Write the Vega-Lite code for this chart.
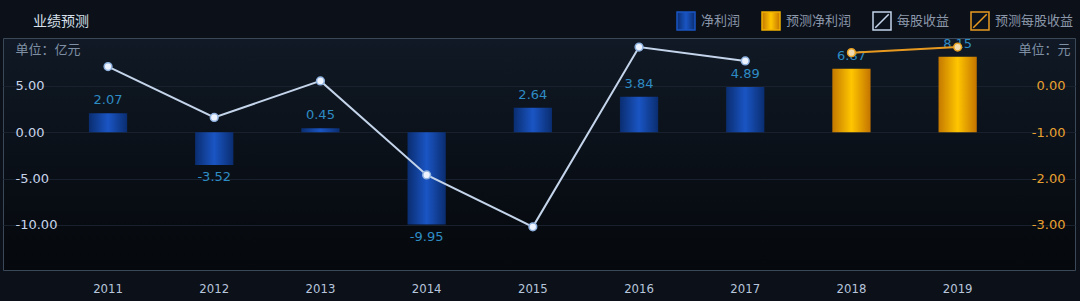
{
  "$schema": "https://vega.github.io/schema/vega-lite/v6.json",
  "width": 1072,
  "height": 232,
  "autosize": {"type": "none"},
  "padding": {"left": 3, "top": 38, "right": 5, "bottom": 31},
  "background": "#0b1019",
  "title": {"text": "业绩预测", "anchor": "start", "frame": "group", "dx": 30, "dy": 43, "offset": 11, "fontSize": 14, "font": "Noto Sans CJK SC", "fontWeight": "normal", "color": "#d8e0ea", "baseline": "bottom"},
  "config": {
    "locale": {"number": {"decimal": ".", "thousands": ",", "grouping": [3], "currency": ["$", ""], "minus": "-"}},
    "view": {"stroke": "#3a4858", "strokeWidth": 1, "fill": {"gradient": "linear", "x1": 0, "y1": 0, "x2": 0, "y2": 1, "stops": [{"offset": 0, "color": "#101925"}, {"offset": 1, "color": "#05080c"}]}},
    "axis": {"labelFont": "DejaVu Sans", "titleFont": "Noto Sans CJK SC", "titleFontWeight": "normal"}
  },
  "data": {"values": [
    {"year": "2011", "profit": 2.07, "eps": 0.42, "series": "每股收益"},
    {"year": "2012", "profit": -3.52, "eps": -0.68, "series": "每股收益"},
    {"year": "2013", "profit": 0.45, "eps": 0.11, "series": "每股收益"},
    {"year": "2014", "profit": -9.95, "eps": -1.92, "series": "每股收益"},
    {"year": "2015", "profit": 2.64, "eps": -3.04, "series": "每股收益"},
    {"year": "2016", "profit": 3.84, "eps": 0.84, "series": "每股收益"},
    {"year": "2017", "profit": 4.89, "eps": 0.54, "series": "每股收益"},
    {"year": "2018", "profit": 6.87, "eps": 0.72, "series": "预测每股收益"},
    {"year": "2019", "profit": 8.15, "eps": 0.84, "series": "预测每股收益"}
  ]},
  "encoding": {
    "x": {"field": "year", "type": "ordinal", "scale": {"paddingInner": 0, "paddingOuter": 0.547, "align": 0.447},
      "axis": {"title": null, "labelAngle": 0, "labelColor": "#b8c6dc", "labelFontSize": 13, "labelPadding": 12, "domain": false, "ticks": false, "labelFont": "DejaVu Sans Condensed, DejaVu Sans"}}
  },
  "layer": [
    {
      "encoding": {
        "y": {"field": "profit", "type": "quantitative", "scale": {"domain": [-14.86, 10.18], "nice": false, "zero": false},
          "axis": {"orient": "left", "values": [5, 0, -5, -10], "format": ".2f", "labelAlign": "left", "labelBaseline": "middle", "labelPadding": -12, "ticks": false, "tickSize": 0, "domain": false, "labelColor": "#c8d4ea", "labelFontSize": 13, "grid": true, "gridColor": "#19212e", "title": "单位：亿元", "titleAngle": 0, "titleAlign": "left", "titleBaseline": "middle", "titleX": 12, "titleY": 11, "titleColor": "#8090a4", "titleFontSize": 13}}
      },
      "layer": [
        {"transform": [{"filter": "datum.series === '每股收益'"}],
          "mark": {"type": "bar", "width": {"band": 0.36}, "fill": {"gradient": "linear", "x1": 0, "y1": 0, "x2": 1, "y2": 0, "stops": [{"offset": 0, "color": "#0a2d70"}, {"offset": 0.5, "color": "#1a55c4"}, {"offset": 1, "color": "#0a2d70"}]}}},
        {"transform": [{"filter": "datum.series === '预测每股收益'"}],
          "mark": {"type": "bar", "width": {"band": 0.36}, "fill": {"gradient": "linear", "x1": 0, "y1": 0, "x2": 1, "y2": 0, "stops": [{"offset": 0, "color": "#c47800"}, {"offset": 0.5, "color": "#ffc600"}, {"offset": 1, "color": "#c47400"}]}}},
        {"transform": [{"filter": "datum.profit >= 0"}],
          "mark": {"type": "text", "baseline": "bottom", "dy": -6, "color": "#2e8cc4", "fontSize": 13, "font": "DejaVu Sans"},
          "encoding": {"text": {"field": "profit", "type": "quantitative", "format": ".2f"}}},
        {"transform": [{"filter": "datum.profit < 0"}],
          "mark": {"type": "text", "baseline": "top", "dy": 6, "color": "#2e8cc4", "fontSize": 13, "font": "DejaVu Sans"},
          "encoding": {"text": {"field": "profit", "type": "quantitative", "format": ".2f"}}}
      ]
    },
    {
      "encoding": {
        "y": {"field": "eps", "type": "quantitative", "scale": {"domain": [-3.972, 1.036], "nice": false, "zero": false},
          "axis": {"orient": "right", "values": [0, -1, -2, -3], "format": ".2f", "labelAlign": "right", "labelBaseline": "middle", "labelPadding": -10, "ticks": false, "tickSize": 0, "domain": false, "grid": false, "labelColor": "#e8a030", "labelFontSize": 13, "title": "单位：元", "titleAngle": 0, "titleAlign": "right", "titleBaseline": "middle", "titleX": -5, "titleY": 11, "titleColor": "#8090a4", "titleFontSize": 13}}
      },
      "layer": [
        {"mark": {"type": "line", "strokeWidth": 2},
          "encoding": {"color": {"field": "series", "type": "nominal",
            "scale": {"domain": ["净利润", "预测净利润", "每股收益", "预测每股收益"], "range": ["#1a55c4", "#f0b000", "#c4d4ea", "#e89a20"]},
            "legend": {"title": null, "orient": "none", "legendX": 673, "legendY": -27, "direction": "horizontal", "columnPadding": 18, "labelOffset": 5, "symbolSize": 324, "symbolType": "square", "labelColor": "#8c98aa", "labelFont": "Noto Sans CJK SC", "labelFontSize": 13, "symbolStrokeWidth": 1.5,
              "encode": {"symbols": {"update": {
                "shape": {"signal": "datum.value === '净利润' || datum.value === '预测净利润' ? 'square' : 'M-1,-1H1V1H-1Z M-0.75,0.75L0.75,-0.75'"},
                "fill": {"signal": "datum.value === '净利润' ? {gradient: 'linear', x1: 0, y1: 0, x2: 1, y2: 0, stops: [{offset: 0, color: '#0a2d70'}, {offset: 0.5, color: '#1a55c4'}, {offset: 1, color: '#0a2d70'}]} : datum.value === '预测净利润' ? {gradient: 'linear', x1: 0, y1: 0, x2: 1, y2: 0, stops: [{offset: 0, color: '#c47800'}, {offset: 0.5, color: '#ffc600'}, {offset: 1, color: '#c47400'}]} : '#0c121c'"},
                "stroke": {"signal": "datum.value === '每股收益' ? '#a8bcd6' : datum.value === '预测每股收益' ? '#d89a30' : 'transparent'"},
                "strokeWidth": {"value": 1.5},
                "opacity": {"value": 1}
              }}}}}}},
        {"mark": {"type": "point", "filled": true, "size": 60, "strokeWidth": 1.5, "opacity": 1},
          "encoding": {
            "fill": {"field": "series", "type": "nominal", "scale": {"domain": ["每股收益", "预测每股收益"], "range": ["#eef4ff", "#f0dcb0"]}, "legend": null},
            "stroke": {"field": "series", "type": "nominal", "scale": {"domain": ["每股收益", "预测每股收益"], "range": ["#8fb2e0", "#e8a020"]}, "legend": null}}}
      ]
    }
  ],
  "resolve": {"scale": {"y": "independent"}}
}
